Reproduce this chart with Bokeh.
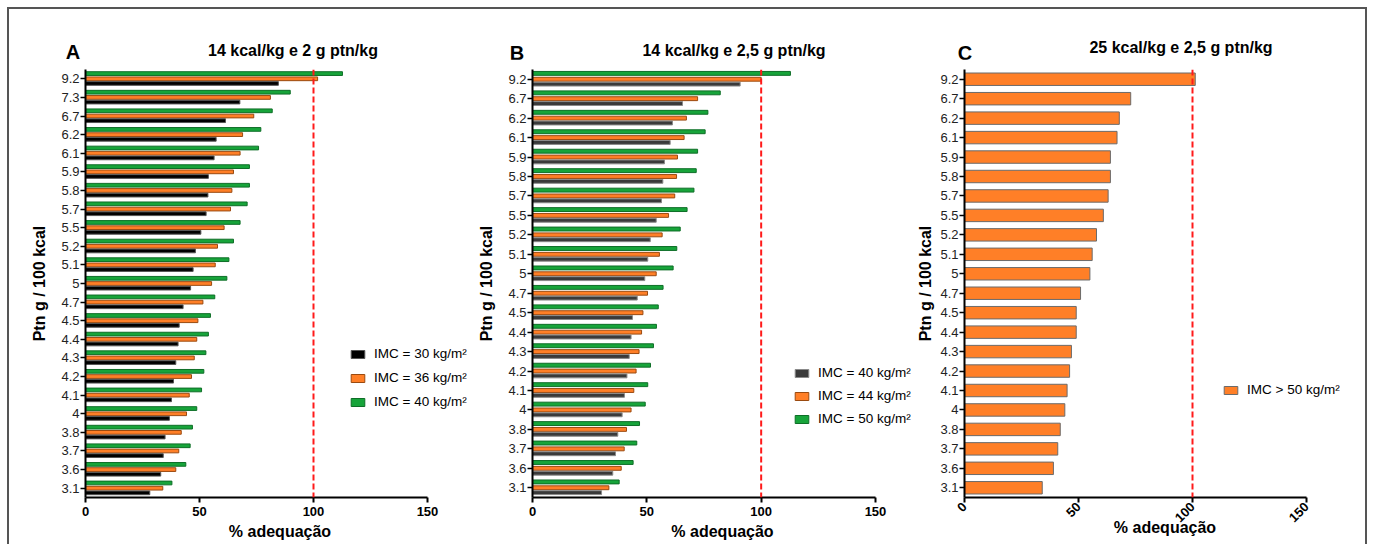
import math
from bokeh.plotting import figure
from bokeh.models import (FactorRange, Range1d, FixedTicker, Span, Legend,
                          LegendItem, ColumnDataSource, Div)
from bokeh.transform import dodge
from bokeh.layouts import row, column
from bokeh.embed import file_html
from bokeh.resources import INLINE

# ---------------- data ----------------
cats_a = ["9.2", "7.3", "6.7", "6.2", "6.1", "5.9", "5.8", "5.7", "5.5", "5.2", "5.1", "5",
          "4.7", "4.5", "4.4", "4.3", "4.2", "4.1", "4", "3.8", "3.7", "3.6", "3.1"]
a_imc30 = [84.6, 67.7, 61.4, 57.3, 56.4, 53.9, 53.7, 52.9, 50.6, 48.2, 47.2, 46.1,
           42.8, 41.1, 40.6, 39.6, 38.6, 37.7, 36.8, 34.9, 34.1, 33.0, 28.2]
a_imc36 = [101.8, 81.1, 73.8, 68.9, 67.8, 64.9, 64.2, 63.6, 60.8, 57.9, 56.9, 55.3,
           51.5, 49.3, 48.8, 47.7, 46.5, 45.5, 44.3, 42.0, 40.9, 39.6, 33.9]
a_imc40 = [112.7, 89.8, 81.9, 76.9, 75.9, 71.9, 71.9, 70.9, 67.8, 64.9, 62.9, 62.0,
           56.7, 54.8, 53.9, 52.8, 51.9, 50.9, 48.8, 46.9, 45.9, 44.0, 37.9]

cats_bc = ["9.2", "6.7", "6.2", "6.1", "5.9", "5.8", "5.7", "5.5", "5.2", "5.1", "5",
           "4.7", "4.5", "4.4", "4.3", "4.2", "4.1", "4", "3.8", "3.7", "3.6", "3.1"]
b_imc40 = [90.8, 65.6, 61.2, 60.2, 57.7, 57.0, 56.4, 54.1, 51.5, 50.4, 49.1,
           45.8, 43.7, 43.1, 42.3, 41.3, 40.2, 39.2, 37.3, 36.3, 35.1, 30.2]
b_imc44 = [100.0, 72.2, 67.3, 66.3, 63.4, 63.0, 62.2, 59.5, 56.7, 55.5, 54.1,
           50.3, 48.3, 47.7, 46.6, 45.3, 44.3, 43.1, 41.1, 40.1, 38.8, 33.4]
b_imc50 = [112.8, 82.1, 76.7, 75.5, 72.2, 71.6, 70.6, 67.6, 64.6, 63.1, 61.5,
           57.1, 55.0, 54.2, 52.9, 51.6, 50.4, 49.3, 46.8, 45.6, 44.0, 37.9]
c_imc50 = [101.2, 72.9, 67.9, 66.9, 64.0, 64.0, 63.0, 60.9, 57.9, 56.0, 55.0,
           50.9, 49.0, 49.0, 46.9, 46.1, 45.0, 44.0, 42.0, 40.9, 39.0, 34.1]

x_ticks = [0, 50, 100, 150]
x_max = 150
ref_line = 100

FONT = "Liberation Sans"
GREEN = "#17A43A"
ORANGE = "#FF7F27"
BLACK = "#000000"

DIV_H = 50
FIG_H = 485


def base_fig(cats, width, mbl, axis_px, ylab_standoff=10, rotate=False):
    frame_px = width - mbl
    x_end = x_max * frame_px / axis_px  # frame extends past 150 to hold the legend
    p = figure(y_range=FactorRange(factors=list(reversed(cats))),
               x_range=Range1d(0, x_end), width=width, height=FIG_H,
               output_backend="svg", toolbar_location=None,
               min_border_left=mbl, min_border_right=0,
               min_border_top=10, min_border_bottom=47)
    p.outline_line_color = None
    p.xgrid.grid_line_color = None
    p.ygrid.grid_line_color = None
    p.background_fill_color = "white"
    p.border_fill_color = "white"
    xa = p.xaxis[0]
    xa.bounds = (0, x_max)
    xa.ticker = FixedTicker(ticks=x_ticks)
    xa.minor_tick_line_color = None
    xa.major_tick_out = 5
    xa.major_tick_in = 0
    xa.axis_line_width = 2
    xa.major_tick_line_width = 2
    xa.axis_line_color = "black"
    xa.major_label_text_font = FONT
    xa.major_label_text_font_size = "13px"
    xa.major_label_text_font_style = "bold"
    xa.major_label_text_color = "black"
    xa.major_label_standoff = 4
    xa.axis_label = "% adequação"
    xa.axis_label_text_font = FONT
    xa.axis_label_text_font_size = "16px"
    xa.axis_label_text_font_style = "bold"
    xa.axis_label_text_color = "black"
    xa.axis_label_standoff = 4
    if rotate:
        xa.major_label_standoff = 2
        xa.major_label_orientation = math.pi / 4
        xa.axis_label_standoff = -10
    ya = p.yaxis[0]
    ya.axis_line_width = 2
    ya.axis_line_color = "black"
    ya.major_tick_out = 5
    ya.major_tick_in = 0
    ya.major_tick_line_width = 1.5
    ya.major_label_text_font = FONT
    ya.major_label_text_font_size = "13px"
    ya.major_label_text_color = "#222222"
    ya.major_label_standoff = 1
    ya.axis_label = "Ptn g / 100 kcal"
    ya.axis_label_text_font = FONT
    ya.axis_label_text_font_size = "16px"
    ya.axis_label_text_font_style = "bold"
    ya.axis_label_text_color = "black"
    ya.axis_label_standoff = ylab_standoff
    p.add_layout(Span(location=ref_line, dimension="height", line_color="#FF1A1A",
                      line_width=2, line_dash="6 3"))
    return p


def header(width, letter, lx, ly, text, tx, ty):
    html = (
        f'<div style="position:relative;width:{width}px;height:{DIV_H}px;'
        f'font-family:\'Liberation Sans\',Arial,sans-serif;color:#000;">'
        f'<span style="position:absolute;left:{lx}px;top:{ly}px;font-size:20px;'
        f'line-height:20px;font-weight:bold;transform:translateX(-50%);">{letter}</span>'
        f'<span style="position:absolute;left:{tx}px;top:{ty}px;font-size:16px;'
        f'line-height:18px;font-weight:bold;white-space:nowrap;'
        f'transform:translateX(-50%);">{text}</span></div>'
    )
    return Div(text=html, width=width, height=DIV_H, margin=0)


def legend(p, items, loc, spacing):
    lg = Legend(items=items, location=loc, glyph_width=17, glyph_height=10,
                label_standoff=8, spacing=spacing, label_height=15, padding=0,
                margin=0, border_line_alpha=0, background_fill_alpha=0,
                label_text_font=FONT, label_text_font_size="13.5px",
                label_text_color="black")
    p.add_layout(lg, "center")


# ---------------- panel A ----------------
WA = 465
pa = base_fig(cats_a, WA, 76, 342)
src_a = ColumnDataSource(dict(cat=cats_a, v30=a_imc30, v36=a_imc36, v40=a_imc40))
rg = pa.hbar(y=dodge("cat", 0.28, range=pa.y_range), right="v40", height=0.2, source=src_a,
             fill_color=GREEN, line_color="#0E6E27", line_width=1)
ro = pa.hbar(y=dodge("cat", 0.0, range=pa.y_range), right="v36", height=0.2, source=src_a,
             fill_color=ORANGE, line_color="#9A4A10", line_width=1)
rb = pa.hbar(y=dodge("cat", -0.25, range=pa.y_range), right="v30", height=0.2, source=src_a,
             fill_color=BLACK, line_color="#555555", line_width=1)
legend(pa, [LegendItem(label="IMC = 30 kg/m²", renderers=[rb]),
            LegendItem(label="IMC = 36 kg/m²", renderers=[ro]),
            LegendItem(label="IMC = 40 kg/m²", renderers=[rg])], (264, 88), 9)
ha = header(WA, "A", 64, 33, "14 kcal/kg e 2 g ptn/kg", 284, 33)

# ---------------- panel B ----------------
WB = 438
pb = base_fig(cats_bc, WB, 58, 343)
src_b = ColumnDataSource(dict(cat=cats_bc, v40=b_imc40, v44=b_imc44, v50=b_imc50))
rg = pb.hbar(y=dodge("cat", 0.3, range=pb.y_range), right="v50", height=0.2, source=src_b,
             fill_color=GREEN, line_color="#0E6E27", line_width=1)
ro = pb.hbar(y=dodge("cat", 0.0, range=pb.y_range), right="v44", height=0.2, source=src_b,
             fill_color=ORANGE, line_color="#9A4A10", line_width=1)
rb = pb.hbar(y=dodge("cat", -0.25, range=pb.y_range), right="v40", height=0.2, source=src_b,
             fill_color="#3A3A3A", line_color="#8A8A8A", line_width=1)
legend(pb, [LegendItem(label="IMC = 40 kg/m²", renderers=[rb]),
            LegendItem(label="IMC = 44 kg/m²", renderers=[ro]),
            LegendItem(label="IMC = 50 kg/m²", renderers=[rg])], (261, 71), 8)
hb = header(WB, "B", 43, 34, "14 kcal/kg e 2,5 g ptn/kg", 260, 33)

# ---------------- panel C ----------------
WC = 453
pc = base_fig(cats_bc, WC, 52, 342, ylab_standoff=3, rotate=True)
src_c = ColumnDataSource(dict(cat=cats_bc, v=c_imc50))
rc = pc.hbar(y="cat", right="v", height=0.64, source=src_c,
             fill_color=ORANGE, line_color="#6B6B6B", line_width=1)
legend(pc, [LegendItem(label="IMC > 50 kg/m²", renderers=[rc])], (258, 100), 8)
hc = header(WC, "C", 53, 34, "25 kcal/kg e 2,5 g ptn/kg", 269, 30)

layout = row(column(ha, pa), column(hb, pb), column(hc, pc),
             styles={"border": "2px solid #555555", "border-bottom": "none",
                     "margin-left": "7px", "margin-top": "7px"})

open("out.html", "w").write(file_html(layout, INLINE))
